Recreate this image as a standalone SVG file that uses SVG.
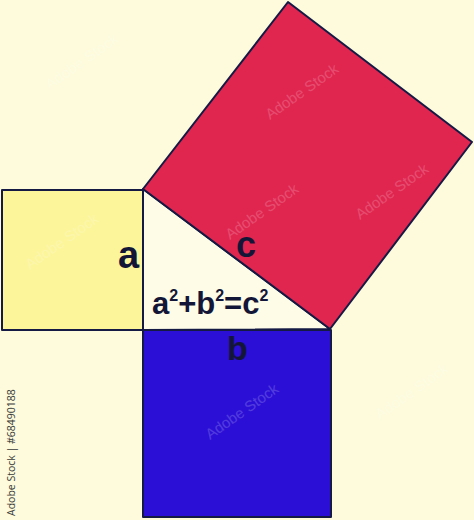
<svg xmlns="http://www.w3.org/2000/svg" width="474" height="520" viewBox="0 0 474 520">
<style>
.sq{stroke:#141a44;stroke-width:2;stroke-linejoin:round}
.lbl{font-family:"Liberation Sans",Arial,sans-serif;font-weight:bold;fill:#141638}
.wm{font-family:"Liberation Sans",Arial,sans-serif;font-size:15px;fill:#ffffff;opacity:0.18}
</style>
<rect width="474" height="520" fill="#fdfbdc"/>
<g id="triangle"><polygon points="143,189 143,330 330,329" fill="#fefce6" class="sq"/></g>
<g id="square-a"><rect x="2" y="190" width="141" height="140" fill="#fcf59a" class="sq"/></g>
<g id="square-b"><rect x="143" y="330" width="188" height="187" fill="#2b0fd6" class="sq"/></g>
<g id="square-c"><polygon points="143,189 288,2 472,142 330,329" fill="#e0254f" class="sq"/></g>
<g id="connectors"></g>
<g id="labels">
<text class="lbl" x="118" y="268" font-size="38">a</text>
<text class="lbl" x="236" y="257" font-size="36">c</text>
<text class="lbl" x="227" y="360" font-size="34">b</text>
<text class="lbl" x="152" y="314" font-size="31">a<tspan dy="-13" font-size="16">2</tspan><tspan dy="13">+b</tspan><tspan dy="-13" font-size="16">2</tspan><tspan dy="13">=c</tspan><tspan dy="-13" font-size="16">2</tspan></text>
</g>
<g id="watermark">
<text x="15" y="516" transform="rotate(-90 15 516)" font-family="'Open Sans','Liberation Sans',sans-serif" font-size="10.5" fill="#3a3a3a">Adobe Stock | #68490188</text>
<text class="wm" x="50" y="90" transform="rotate(-35 50 90)">Adobe Stock</text>
<text class="wm" x="270" y="120" transform="rotate(-35 270 120)">Adobe Stock</text>
<text class="wm" x="230" y="240" transform="rotate(-35 230 240)">Adobe Stock</text>
<text class="wm" x="30" y="270" transform="rotate(-35 30 270)">Adobe Stock</text>
<text class="wm" x="210" y="440" transform="rotate(-35 210 440)">Adobe Stock</text>
<text class="wm" x="380" y="420" transform="rotate(-35 380 420)">Adobe Stock</text>
<text class="wm" x="360" y="220" transform="rotate(-35 360 220)">Adobe Stock</text>
</g>
</svg>
